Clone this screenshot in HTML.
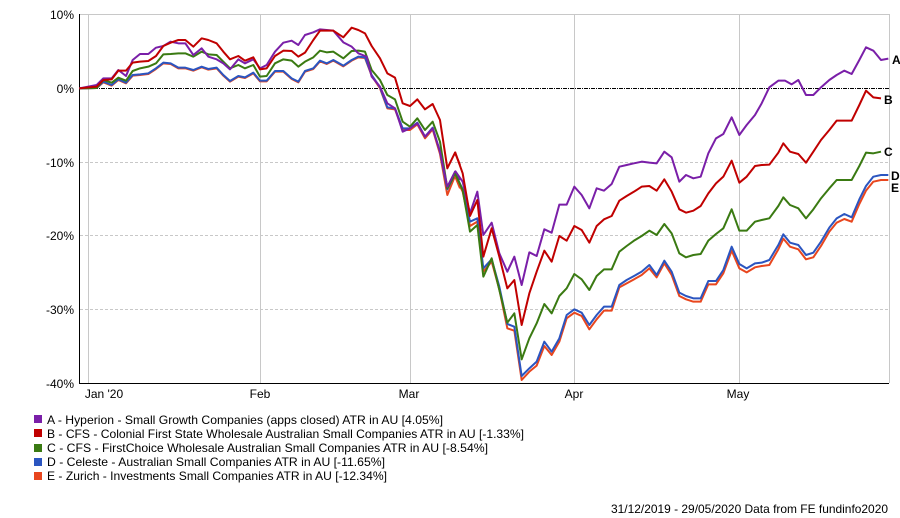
<!DOCTYPE html>
<html><head><meta charset="utf-8"><style>
html,body{margin:0;padding:0;background:#fff;width:900px;height:518px;overflow:hidden}
svg{display:block;font-family:"Liberation Sans",Arial,sans-serif}
</style></head><body>
<svg width="900" height="518" viewBox="0 0 900 518" xmlns="http://www.w3.org/2000/svg">
<g stroke="#c8c8c8" stroke-width="1">
<line x1="88.5" y1="14" x2="88.5" y2="383"/>
<line x1="260.5" y1="14" x2="260.5" y2="383"/>
<line x1="410.5" y1="14" x2="410.5" y2="383"/>
<line x1="574.5" y1="14" x2="574.5" y2="383"/>
<line x1="739.5" y1="14" x2="739.5" y2="383"/>
<line x1="80" y1="14.5" x2="889" y2="14.5"/>
<line x1="889.5" y1="14" x2="889.5" y2="383"/>
</g>
<g stroke="#c8c8c8" stroke-width="1" stroke-dasharray="3,2">
<line x1="80" y1="162.5" x2="889" y2="162.5"/>
<line x1="80" y1="235.5" x2="889" y2="235.5"/>
<line x1="80" y1="309.5" x2="889" y2="309.5"/>
</g>
<line x1="80" y1="88.5" x2="889" y2="88.5" stroke="#000" stroke-width="1" stroke-dasharray="4,1,1,1"/>
<line x1="79.5" y1="14" x2="79.5" y2="383.5" stroke="#000"/>
<line x1="79" y1="383.5" x2="889" y2="383.5" stroke="#000"/>
<g font-size="12" fill="#000" text-anchor="end">
<text x="74" y="19">10%</text>
<text x="74" y="93">0%</text>
<text x="74" y="167">-10%</text>
<text x="74" y="240">-20%</text>
<text x="74" y="314">-30%</text>
<text x="74" y="388">-40%</text>
</g>
<g font-size="12" fill="#000" text-anchor="middle">
<text x="104" y="398">Jan '20</text>
<text x="260" y="398">Feb</text>
<text x="409" y="398">Mar</text>
<text x="574" y="398">Apr</text>
<text x="738" y="398">May</text>
</g>
<g fill="none" stroke-width="2" stroke-linejoin="round">
<g transform="translate(40,0) scale(0.33333)">
<polyline vector-effect="non-scaling-stroke" stroke="#E8461E" points="118,265 170,264 190,247 215,257 235,240 258,250 278,227 300,225 325,222 348,207 370,190 392,192 415,205 436,205 460,212 485,202 505,209 530,205 550,227 570,245 595,230 615,234 640,220 660,244 680,244 705,215 730,215 755,237 775,247 795,215 820,207 840,184 860,192 880,182 910,199 935,182 955,172 975,174 995,227 1020,265 1042,325 1065,328 1088,390 1110,390 1132,373 1155,415 1178,388 1200,462 1222,585 1245,528 1260,565"/>
<polyline vector-effect="non-scaling-stroke" stroke="#2B55C0" points="118,265 170,264 190,245 215,255 235,238 258,248 278,225 300,223 325,220 348,205 370,188 392,190 415,203 436,203 460,210 485,200 505,207 530,203 550,225 570,243 595,228 615,232 640,218 660,242 680,242 705,213 730,213 755,235 775,245 795,213 820,205 840,182 860,190 880,180 910,197 935,180 955,170 975,172 995,225 1020,262 1042,322 1065,325 1088,385 1110,385 1132,368 1155,410 1178,383 1200,455 1222,568 1245,522 1260,555"/>
<polyline vector-effect="non-scaling-stroke" stroke="#3A7A12" points="118,265 170,264 190,240 215,248 235,233 258,242 278,213 300,205 325,200 348,190 370,163 392,162 415,160 436,160 460,170 485,155 505,163 530,165 550,185 570,205 595,195 615,205 640,195 660,230 680,228 705,190 730,178 755,182 775,200 795,185 820,172 840,152 860,157 880,155 910,175 935,153 955,152 975,155 995,210 1020,240 1042,285 1065,298 1088,365 1110,380 1132,355 1155,390 1178,365 1200,425 1222,565 1245,523 1260,555"/>
<polyline vector-effect="non-scaling-stroke" stroke="#7A1FA8" points="118,265 145,260 170,255 190,235 215,235 235,210 258,228 278,180 300,162 325,162 348,143 370,138 392,125 415,130 436,130 460,165 485,145 505,170 530,178 550,190 570,208 595,178 615,190 640,178 660,205 680,195 705,155 730,128 755,122 775,135 795,105 820,97 840,88 860,90 880,92 910,127 935,140 955,160 980,170 995,230 1020,260 1042,310 1065,325 1088,395 1110,385 1132,370 1155,410 1178,385 1200,455 1222,560 1245,515 1260,540"/>
<polyline vector-effect="non-scaling-stroke" stroke="#C00000" points="118,265 145,262 170,260 190,240 215,238 235,212 258,212 278,188 300,185 325,183 348,168 370,138 392,128 415,120 436,120 460,140 485,115 505,120 530,130 550,155 570,178 595,168 615,182 640,172 660,208 680,205 705,168 730,152 755,153 775,170 795,158 820,120 840,92 860,92 880,92 910,112 935,83 955,90 975,100 995,138 1020,175 1042,220 1065,233 1088,310 1110,318 1132,298 1155,328 1178,312 1200,360 1222,505 1245,458 1260,495"/>
</g>
<g transform="translate(450,0) scale(0.33333)">
<polyline vector-effect="non-scaling-stroke" stroke="#E8461E" points="15,528 38,575 60,678 82,665 100,815 125,785 148,868 172,985 193,992 215,1140 238,1115 260,1097 283,1038 305,1065 328,1025 350,955 373,938 395,948 418,988 440,958 462,932 485,932 508,862 530,850 552,838 575,825 598,805 620,832 643,790 665,825 688,888 708,898 730,905 752,905 775,853 798,853 820,820 845,752 868,805 890,817 915,802 935,798 958,795 985,748 1000,716 1020,740 1045,748 1068,778 1090,772 1113,738 1138,695 1160,668 1183,657 1205,665 1228,612 1248,572 1270,545 1293,540 1315,540"/>
<polyline vector-effect="non-scaling-stroke" stroke="#2B55C0" points="15,520 38,568 60,665 82,655 100,805 125,778 148,860 172,972 193,980 215,1128 238,1105 260,1085 283,1025 305,1055 328,1015 350,945 373,928 395,938 418,975 440,945 462,920 485,920 508,855 530,840 552,828 575,815 598,795 620,825 643,782 665,815 688,878 708,888 730,895 752,895 775,843 798,843 820,810 845,740 868,792 890,805 915,790 935,788 958,780 985,735 1000,703 1020,728 1045,735 1068,765 1090,758 1113,725 1138,683 1160,655 1183,642 1205,652 1228,598 1248,558 1270,530 1293,525 1315,525"/>
<polyline vector-effect="non-scaling-stroke" stroke="#3A7A12" points="15,520 38,570 60,695 82,675 100,830 125,775 148,870 172,968 193,940 215,1078 238,1015 260,970 283,912 305,940 328,888 350,865 373,822 395,838 418,870 440,828 462,808 485,808 508,755 530,738 552,722 575,708 598,692 620,705 643,672 665,700 688,760 708,772 730,765 752,762 775,722 798,702 820,685 845,628 868,692 890,692 915,665 935,660 958,655 985,618 1000,592 1020,615 1045,625 1068,655 1090,628 1113,595 1138,565 1160,540 1183,540 1205,540 1228,498 1248,458 1270,460 1293,455"/>
<polyline vector-effect="non-scaling-stroke" stroke="#7A1FA8" points="15,512 38,545 60,640 82,575 100,705 125,668 148,760 172,815 193,770 215,855 238,757 260,768 283,688 305,698 328,614 350,614 373,560 395,585 418,625 440,565 462,572 485,552 508,500 530,495 552,490 575,485 598,488 620,490 643,455 665,472 688,545 708,525 730,535 752,530 775,460 798,415 820,402 845,352 868,405 890,375 915,345 935,310 958,262 985,242 1005,242 1025,253 1045,240 1068,285 1090,285 1113,262 1138,240 1160,225 1183,212 1205,222 1228,180 1248,142 1270,152 1293,180 1315,176"/>
<polyline vector-effect="non-scaling-stroke" stroke="#C00000" points="15,455 38,520 60,648 82,600 100,770 125,685 148,770 172,865 193,840 215,975 238,880 260,815 283,752 305,785 328,708 350,722 373,678 395,690 418,728 440,678 462,658 485,648 508,602 530,588 552,575 575,560 598,558 620,572 643,538 665,575 688,628 708,638 730,632 752,618 775,580 798,550 820,530 845,482 868,548 890,530 915,498 935,495 958,494 985,458 1000,430 1020,455 1045,462 1068,488 1090,455 1113,420 1138,390 1160,362 1183,362 1205,362 1228,315 1248,272 1270,292 1293,295"/>
</g>
</g>
<g font-size="12" font-weight="bold" fill="#000">
<text x="892" y="64">A</text>
<text x="884" y="104">B</text>
<text x="884" y="156">C</text>
<text x="891" y="180">D</text>
<text x="891" y="192">E</text>
</g>
<rect x="34" y="415" width="8" height="8" fill="#7A1FA8"/>
<rect x="34" y="429" width="8" height="8" fill="#C00000"/>
<rect x="34" y="444" width="8" height="8" fill="#3A7A12"/>
<rect x="34" y="458" width="8" height="8" fill="#2B55C0"/>
<rect x="34" y="472" width="8" height="8" fill="#E8461E"/>
<g font-size="12" fill="#000">
<text x="47" y="424" textLength="396" lengthAdjust="spacingAndGlyphs">A - Hyperion - Small Growth Companies (apps closed) ATR in AU [4.05%]</text>
<text x="47" y="438" textLength="477" lengthAdjust="spacingAndGlyphs">B - CFS - Colonial First State Wholesale Australian Small Companies ATR in AU [-1.33%]</text>
<text x="47" y="452" textLength="441" lengthAdjust="spacingAndGlyphs">C - CFS - FirstChoice Wholesale Australian Small Companies ATR in AU [-8.54%]</text>
<text x="47" y="466" textLength="338" lengthAdjust="spacingAndGlyphs">D - Celeste - Australian Small Companies ATR in AU [-11.65%]</text>
<text x="47" y="480" textLength="340" lengthAdjust="spacingAndGlyphs">E - Zurich - Investments Small Companies ATR in AU [-12.34%]</text>
<text x="611" y="513" textLength="277" lengthAdjust="spacingAndGlyphs">31/12/2019 - 29/05/2020 Data from FE fundinfo2020</text>
</g>
</svg>
</body></html>
